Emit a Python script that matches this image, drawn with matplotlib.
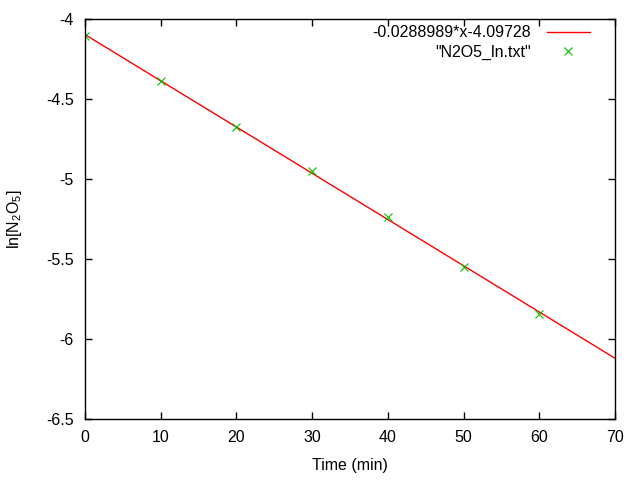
import matplotlib
matplotlib.use("Agg")
import matplotlib.pyplot as plt
import numpy as np

# measured data (ln of concentration) and gnuplot fit
time_min = [0, 10, 20, 30, 40, 50, 60]
ln_n2o5 = [-4.104, -4.390, -4.678, -4.948, -5.240, -5.547, -5.843]
slope = -0.0288989
intercept = -4.09728
fit_x = [0, 70]

plt.rcParams["font.family"] = ["Liberation Sans", "DejaVu Sans"]
plt.rcParams["font.size"] = 11.5
plt.rcParams["mathtext.fontset"] = "custom"
plt.rcParams["mathtext.rm"] = "Liberation Sans"

fig = plt.figure(figsize=(6.4, 4.8), dpi=100)
ax = fig.add_axes([85 / 640, 61 / 480, 530 / 640, 400 / 480])

fx = np.array(fit_x, dtype=float)
ax.plot(fx, slope * fx + intercept, color="red", lw=1,
        label="-0.0288989*x-4.09728")
ax.plot(time_min, ln_n2o5, ls="none", marker="x", ms=6, mew=0.8,
        color="#00c000", label='"N2O5_ln.txt"')

ax.set_xlim(0, 70)
ax.set_ylim(-6.5, -4)
ax.set_xticks(range(0, 71, 10))
ax.set_yticks(np.arange(-6.5, -3.99, 0.5))
ax.set_yticklabels(["-6.5", "-6", "-5.5", "-5", "-4.5", "-4"])
ax.tick_params(direction="in", top=True, right=True, length=5, width=1, pad=8)
for s in ax.spines.values():
    s.set_linewidth(1)

ax.set_xlabel("Time (min)", labelpad=9)
ax.set_ylabel("ln[N$_\\mathrm{2}$O$_\\mathrm{5}$]", labelpad=16)

ax.legend(loc="upper right", bbox_to_anchor=(0.9528, 0.984),
          frameon=False, markerfirst=False,
          handlelength=2.7, borderaxespad=0.0, labelspacing=0.25,
          handletextpad=1.0, borderpad=0.0)

fig.savefig("out.png", dpi=100)
